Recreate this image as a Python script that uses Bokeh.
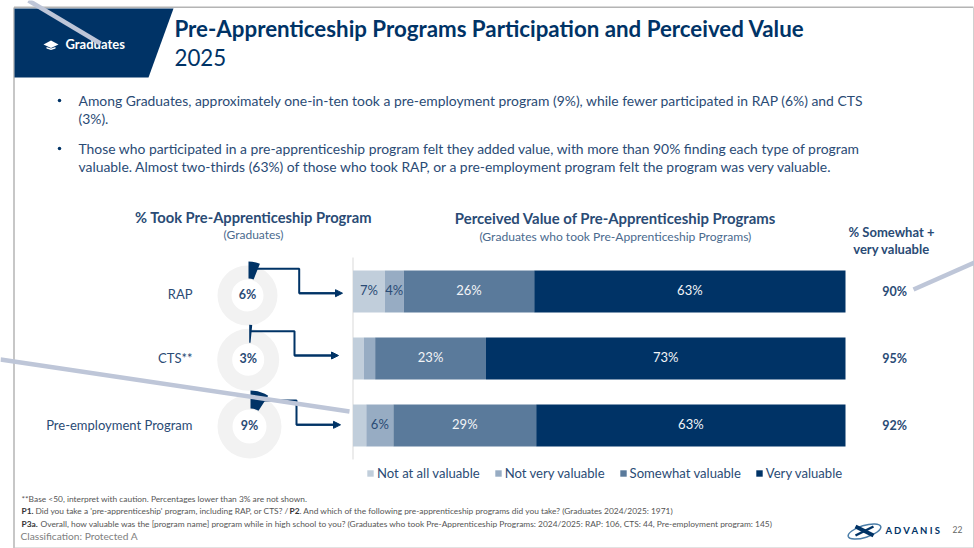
from math import pi
from bokeh.embed import file_html
from bokeh.resources import INLINE
from bokeh.plotting import figure
from bokeh.models import Range1d, ColumnDataSource, Arrow, NormalHead, Legend, LegendItem
from bokeh.core.properties import value

# ---------- data ----------
programs = ["RAP", "CTS**", "Pre-employment Program"]
took_share = [6, 1.5, 9]
took_labels = ["6%", "3%", "9%"]
not_at_all = [6.45, 2.2, 2.7]
not_very = [3.85, 2.3, 5.5]
somewhat = [26.5, 22.5, 29]
very = [63.2, 73, 62.8]
bar_labels = [["7%", "4%", "26%", "63%"], ["", "", "23%", "73%"], ["", "6%", "29%", "63%"]]
top2 = ["90%", "95%", "92%"]
series_names = ["Not at all valuable", "Not very valuable", "Somewhat valuable", "Very valuable"]
series_colors = ["#C1CEDB", "#97ACC3", "#5A7A9B", "#003366"]

W, H = 974, 548
NAVY = "#003366"
TXT = "#2A4B75"
FONT = "Lato"

p = figure(width=W, height=H, output_backend="svg", toolbar_location=None,
           x_range=Range1d(0, W), y_range=Range1d(H, 0), min_border=0,
           outline_line_color=None, background_fill_color="white", border_fill_color="white")
p.axis.visible = False
p.grid.visible = False

# extra scales for the bars: percent across, row index down
BAR_X0, PX_PER_PCT = 352.5, 4.925
ROW_Y0, ROW_DY = 291, 67
p.extra_x_ranges["pct"] = Range1d(-BAR_X0 / PX_PER_PCT, (W - BAR_X0) / PX_PER_PCT)
p.extra_y_ranges["row"] = Range1d((H - ROW_Y0) / ROW_DY, -ROW_Y0 / ROW_DY)


def t(x, y, s, size, color=TXT, bold=False, align="left", **kw):
    return p.text([x], [y - 1], text=[s], text_font=value(FONT), text_font_size=f"{size}px", text_color=color,
                  text_font_style="bold" if bold else "normal", text_align=align, text_baseline="middle", **kw)


# slide frame
GREY = "#B4B4B4"
p.line([13.5, 13.5], [7, 547.5], line_color=GREY, line_width=1.5)
p.line([13.5, 973], [6.8, 6.8], line_color=GREY, line_width=1.5)
p.line([973, 973], [7, 547.5], line_color="#D0D0D0", line_width=1)
p.line([13.5, 973], [547.5, 547.5], line_color="#C4C4C4", line_width=1)

# header
p.patch([14, 173, 148, 14], [8, 8, 77, 77], fill_color=NAVY, line_color=None)
p.patch([43, 50.5, 58, 50.5], [44, 40, 44, 47.5], fill_color="white", line_color=None)
p.patch([46, 50.5, 55, 55, 50.5, 46], [46.4, 48, 46.4, 48, 49.5, 48], fill_color="white", line_color=None)
t(65, 44, "Graduates", 13, "white", bold=True)
t(174, 29, "Pre-Apprenticeship Programs Participation and Perceived Value", 22.3, NAVY, bold=True)
t(174, 58, "2025", 22.3, NAVY)

# bullets
BSZ = 13.9
p.scatter([59, 59], [100, 148], size=3.5, fill_color=NAVY, line_color=None)
t(78, 101, "Among Graduates, approximately one-in-ten took a pre-employment program (9%), while fewer participated in RAP (6%) and CTS", BSZ)
t(78, 119, "(3%).", BSZ)
t(78, 149, "Those who participated in a pre-apprenticeship program felt they added value, with more than 90% finding each type of program", BSZ)
t(78, 167, "valuable. Almost two-thirds (63%) of those who took RAP, or a pre-employment program felt the program was very valuable.", BSZ)

# section titles
t(253, 217, "% Took Pre-Apprenticeship Program", 14.7, TXT, bold=True, align="center")
t(253, 235, "(Graduates)", 12, "#4A6A8E", align="center")
t(615, 218, "Perceived Value of Pre-Apprenticeship Programs", 14.9, TXT, bold=True, align="center")
t(615, 237, "(Graduates who took Pre-Apprenticeship Programs)", 12.1, "#4A6A8E", align="center")
t(891, 232, "% Somewhat +", 13, TXT, bold=True, align="center")
t(891, 249, "very valuable", 13, TXT, bold=True, align="center")

# donuts
centers = [(247, 295, 30, 16), (247.7, 359.3, 31, 16), (249, 426, 32, 17)]
for (cx, cy, ro, ri), name, share, lab in zip(centers, programs, took_share, took_labels):
    p.annular_wedge([cx], [cy], inner_radius=ri, outer_radius=ro, start_angle=0, end_angle=2 * pi,
                    fill_color="#F2F2F2", line_color=None)
    a = share / 100 * 2 * pi
    p.annular_wedge([cx + 1], [cy - 3], inner_radius=ri - 2, outer_radius=ro + 1, start_angle=pi / 2 - a, end_angle=pi / 2,
                    fill_color=NAVY, line_color=None)
    t(cx, cy, lab, 12.5, TXT, bold=True, align="center")
    t(192, cy - 1, name, 13, TXT, align="right")

# connectors
for xs, ys in [([250, 298.7, 298.7, 335], [268.3, 268.3, 292.7, 292.7]),
               ([250, 294, 294, 331], [330.7, 330.7, 355, 355]),
               ([258, 296, 296, 333], [400, 400, 424.3, 424.3])]:
    p.line(xs, ys, line_color=NAVY, line_width=2)
    p.add_layout(Arrow(end=NormalHead(size=7, fill_color=NAVY, line_color=NAVY), x_start=xs[-2], y_start=ys[-1],
                       x_end=xs[-1] + 7, y_end=ys[-1], line_color=NAVY, line_width=2))

# stacked bars
p.line([352.5, 352.5], [257, 459], line_color="#D9D9D9", line_width=1)
source = ColumnDataSource(dict(row=[0, 1, 2], a=not_at_all, b=not_very, c=somewhat, d=very))
bars = p.hbar_stack(["a", "b", "c", "d"], y="row", height=42 / ROW_DY, color=series_colors, source=source,
                    line_color=None, x_range_name="pct", y_range_name="row")
for r, rows in enumerate(zip(not_at_all, not_very, somewhat, very)):
    left = 0
    for v, lab, col in zip(rows, bar_labels[r], ["#2A4B75", "#2A4B75", "#F2F4F7", "#F2F4F7"]):
        if lab:
            p.text([left + v / 2], [r - 0.015], text=[lab], text_font=value(FONT), text_font_size="13px", text_color=col,
                   text_align="center", text_baseline="middle", x_range_name="pct", y_range_name="row")
        left += v
for r, lab in enumerate(top2):
    p.text([894], [r - 0.005], text=[lab], text_font=value(FONT), text_font_size="12.5px", text_font_style="bold",
           text_color=TXT, text_align="center", text_baseline="middle", y_range_name="row")

legend = Legend(items=[LegendItem(label=n, renderers=[b]) for n, b in zip(series_names, bars)],
                orientation="horizontal", location=(366, H - 472 - 9), padding=0, margin=0, spacing=14,
                glyph_width=8, glyph_height=8, label_standoff=3, border_line_color=None,
                background_fill_alpha=0, label_text_font=FONT, label_text_font_size="13.1px", label_text_color=TXT,
                label_height=14)
p.add_layout(legend, "center")

# footnotes
FG, FS = "#555555", 8.4
t(21, 499, "**Base <50, interpret with caution. Percentages lower than 3% are not shown.", FS, FG)
t(21, 511, "P1.", FS, "#333333", bold=True)
t(35, 511, "Did you take a 'pre-apprenticeship' program, including RAP, or CTS? /", FS, FG)
t(289, 511, "P2", FS, "#333333", bold=True)
t(299, 511, ". And which of the following pre-apprenticeship programs did you take? (Graduates 2024/2025: 1971)", FS, FG)
t(21, 524, "P3a.", FS, "#333333", bold=True)
t(40, 524, "Overall, how valuable was the [program name] program while in high school to you? (Graduates who took Pre-Apprenticeship Programs: 2024/2025: RAP: 106, CTS: 44, Pre-employment program: 145)", FS, FG)
t(20, 536, "Classification: Protected A", 10.2, "#808080")

# logo
p.ellipse([864], [531], width=34, height=12, angle=0.3, fill_color=None, line_color="#4A7DA8", line_width=1.5)
p.line([855, 873], [526, 535], line_color=NAVY, line_width=4)
p.line([873, 855], [526, 535], line_color=NAVY, line_width=2.5)
t(885, 531, "A D V A N I S", 9.5, NAVY, bold=True)
t(957, 530, "22", 8.5, "#666666", align="center")

# scratches across the slide
SC = "#BEC6D8"
p.line([28, 100], [0, 43], line_color=SC, line_width=4.5)
p.line([0, 349], [359, 411], line_color=SC, line_width=4.5)
p.line([913, 974], [289, 262], line_color=SC, line_width=4.5)

open("out.html", "w").write(file_html(p, INLINE))
